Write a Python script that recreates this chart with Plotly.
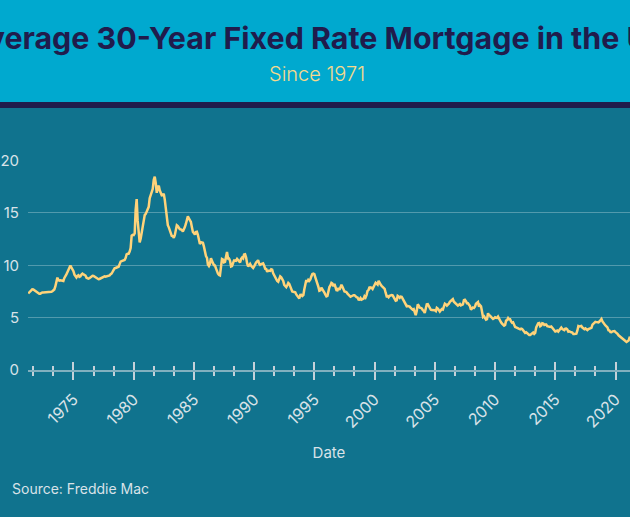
import pandas as pd
import plotly.graph_objects as go

# Freddie Mac 30-year fixed rate, monthly averages (%)
start_month = "1971-04-01"
rates_1970s = [
    7.31, 7.43, 7.53, 7.60, 7.70, 7.69, 7.63, 7.55, 7.48,
    7.44, 7.32, 7.29, 7.29, 7.37, 7.40, 7.40, 7.40, 7.42, 7.43, 7.44, 7.44,
    7.44, 7.44, 7.46, 7.52, 7.58, 7.69, 7.97, 8.53, 8.82, 8.60, 8.53, 8.56,
    8.54, 8.45, 8.50, 8.79, 9.06, 9.13, 9.34, 9.61, 9.80, 9.98, 9.79, 9.62,
    9.43, 9.10, 8.89, 8.83, 8.99, 9.05, 8.89, 8.94, 9.12, 9.21, 9.13, 9.08,
    9.02, 8.81, 8.76, 8.73, 8.76, 8.85, 8.93, 9.00, 8.98, 8.92, 8.81, 8.79,
    8.72, 8.67, 8.69, 8.75, 8.83, 8.86, 8.94, 8.94, 8.90, 8.92, 8.92, 8.96,
    9.02, 9.15, 9.20, 9.36, 9.57, 9.71, 9.74, 9.78, 9.76, 9.86, 10.11, 10.35,
    10.39, 10.41, 10.43, 10.50, 10.69, 11.04, 11.09, 11.09, 11.30, 11.64, 12.83, 12.90,
]
rates_1980s = [
    12.88, 13.04, 15.28, 16.32, 14.26, 12.71, 12.19, 12.56, 13.20, 13.79, 14.21, 14.79,
    14.90, 15.13, 15.40, 15.58, 16.40, 16.70, 16.83, 17.29, 18.16, 18.45, 17.83, 16.92,
    17.40, 17.60, 17.16, 16.89, 16.68, 16.70, 16.82, 16.27, 15.43, 14.61, 13.83, 13.62,
    13.25, 13.04, 12.80, 12.78, 12.63, 12.87, 13.42, 13.81, 13.73, 13.54, 13.44, 13.42,
    13.37, 13.23, 13.39, 13.65, 13.94, 14.42, 14.67, 14.47, 14.35, 14.13, 13.64, 13.18,
    13.08, 12.92, 13.17, 13.20, 12.91, 12.22, 12.03, 12.19, 12.19, 12.14, 11.78, 11.26,
    10.88, 10.71, 10.08, 9.94, 10.14, 10.68, 10.51, 10.20, 10.01, 9.98, 9.70, 9.31,
    9.20, 9.08, 9.04, 9.83, 10.60, 10.54, 10.28, 10.33, 10.89, 11.26, 10.65, 10.65,
    10.43, 9.89, 9.93, 10.20, 10.46, 10.46, 10.43, 10.60, 10.48, 10.30, 10.27, 10.61,
    10.73, 10.65, 11.03, 11.05, 10.77, 10.20, 9.88, 9.99, 10.13, 9.95, 9.77, 9.74,
]
rates_1990s = [
    9.90, 10.20, 10.27, 10.37, 10.48, 10.16, 10.04, 10.10, 10.18, 10.18, 9.97, 9.67,
    9.64, 9.37, 9.50, 9.49, 9.47, 9.62, 9.58, 9.24, 9.01, 8.86, 8.71, 8.50,
    8.43, 8.76, 8.94, 8.85, 8.67, 8.51, 8.13, 7.98, 7.92, 8.09, 8.31, 8.22,
    7.99, 7.68, 7.50, 7.47, 7.47, 7.42, 7.21, 7.11, 6.91, 6.83, 7.16, 7.17,
    7.06, 7.15, 7.68, 8.32, 8.60, 8.40, 8.61, 8.51, 8.64, 8.93, 9.17, 9.20,
    9.15, 8.83, 8.46, 8.32, 7.96, 7.57, 7.61, 7.86, 7.64, 7.48, 7.38, 7.20,
    7.03, 7.08, 7.62, 7.93, 8.07, 8.32, 8.25, 8.00, 8.23, 7.92, 7.62, 7.60,
    7.82, 7.65, 7.90, 8.14, 7.94, 7.69, 7.50, 7.48, 7.43, 7.29, 7.21, 7.10,
    6.99, 7.04, 7.13, 7.14, 7.14, 7.00, 6.95, 6.92, 6.72, 6.71, 6.87, 6.72,
    6.79, 6.81, 7.04, 6.92, 7.15, 7.55, 7.63, 7.94, 7.82, 7.85, 7.74, 7.91,
]
rates_2000s = [
    8.21, 8.33, 8.24, 8.15, 8.52, 8.29, 8.15, 8.03, 7.91, 7.80, 7.75, 7.38,
    7.03, 7.05, 6.95, 7.08, 7.15, 7.16, 7.13, 6.95, 6.82, 6.62, 6.66, 7.07,
    7.00, 6.89, 7.01, 6.99, 6.81, 6.65, 6.49, 6.29, 6.09, 6.11, 6.07, 6.05,
    5.92, 5.84, 5.75, 5.81, 5.48, 5.23, 5.63, 6.26, 6.15, 5.95, 5.93, 5.88,
    5.71, 5.64, 5.45, 5.83, 6.27, 6.29, 6.06, 5.87, 5.75, 5.72, 5.73, 5.75,
    5.71, 5.63, 5.93, 5.86, 5.72, 5.58, 5.70, 5.82, 5.77, 6.07, 6.33, 6.27,
    6.15, 6.25, 6.32, 6.51, 6.60, 6.68, 6.76, 6.52, 6.40, 6.36, 6.24, 6.14,
    6.22, 6.29, 6.16, 6.18, 6.26, 6.66, 6.70, 6.57, 6.38, 6.38, 6.21, 6.10,
    5.76, 5.92, 5.97, 5.92, 6.04, 6.32, 6.43, 6.48, 6.04, 6.20, 6.09, 5.29,
    5.06, 5.13, 5.00, 4.81, 4.86, 5.42, 5.22, 5.19, 5.06, 4.95, 4.88, 4.93,
]
rates_2010s = [
    5.03, 4.99, 4.97, 5.10, 4.89, 4.74, 4.56, 4.43, 4.35, 4.23, 4.30, 4.71,
    4.76, 4.95, 4.84, 4.84, 4.64, 4.51, 4.55, 4.27, 4.11, 4.07, 3.99, 3.96,
    3.92, 3.89, 3.95, 3.91, 3.80, 3.68, 3.55, 3.60, 3.50, 3.38, 3.35, 3.35,
    3.41, 3.53, 3.57, 3.45, 3.54, 4.07, 4.37, 4.46, 4.49, 4.19, 4.26, 4.46,
    4.43, 4.30, 4.34, 4.34, 4.19, 4.16, 4.13, 4.12, 4.16, 4.04, 4.00, 3.86,
    3.67, 3.71, 3.77, 3.67, 3.84, 3.98, 4.05, 3.91, 3.89, 3.80, 3.94, 3.96,
    3.87, 3.66, 3.69, 3.61, 3.60, 3.57, 3.44, 3.44, 3.46, 3.47, 3.77, 4.20,
    4.15, 4.17, 4.20, 4.05, 4.01, 3.90, 3.97, 3.88, 3.81, 3.90, 3.92, 3.95,
    4.03, 4.33, 4.44, 4.47, 4.59, 4.57, 4.53, 4.55, 4.63, 4.83, 4.87, 4.64,
    4.46, 4.37, 4.27, 4.14, 4.07, 3.80, 3.77, 3.62, 3.61, 3.69, 3.70, 3.72,
]
rates_2020s = [
    3.62, 3.47, 3.45, 3.31, 3.23, 3.16, 3.02, 2.94, 2.89, 2.83, 2.77, 2.68,
    2.74, 2.81, 3.08, 3.06, 2.96, 2.98,
]

y_ticks = [0, 5, 10, 15, 20]

rates = rates_1970s + rates_1980s + rates_1990s + rates_2000s + rates_2010s + rates_2020s
dates = pd.date_range(start_month, periods=len(rates), freq="MS")

header_blue = "#00a9cf"
navy = "#201c4c"
teal = "#10738e"
gold = "#ffd37a"
light = "#d9e2e8"
axis_grey = "#c5d1d9"
font = "Inter"

fig = go.Figure()
fig.add_trace(go.Scatter(x=dates, y=rates, mode="lines", name="30-Year Fixed",
                         line=dict(color=gold, width=2.5), showlegend=False))
# one-point trace so the overlay axis (inner half of the ticks) gets drawn
fig.add_trace(go.Scatter(x=dates[:1], y=rates[:1], xaxis="x2", mode="lines",
                         showlegend=False, hoverinfo="skip"))

W, H = 630, 517
m_l, m_r, m_t, m_b = 26, 0, 160, 147
header_h, stripe_h = 102, 6
pw, ph = W - m_l - m_r, H - m_t - m_b

tick_common = dict(tickmode="linear", tick0="1975-01-01", dtick="M60",
                   tickcolor=axis_grey, tickwidth=1.7)
minor_common = dict(tick0="1975-01-01", dtick="M20", tickcolor=axis_grey,
                    tickwidth=1.7, showgrid=False)

fig.update_layout(
    width=W, height=H,
    margin=dict(l=m_l, r=m_r, t=m_t, b=m_b),
    paper_bgcolor=teal, plot_bgcolor=teal,
    font=dict(family=font, color=light),
    title=dict(text="<b>Average 30-Year Fixed Rate Mortgage in the U.S.</b>",
               xref="container", yref="container", x=327 / W, y=1 - 38 / H,
               xanchor="center", yanchor="middle",
               font=dict(family=font, size=30.4, color=navy)),
    xaxis=dict(range=["1971-03-25", "2021-03-15"], showgrid=False, zeroline=False,
               showline=True, linecolor="rgba(205,216,224,0.6)", linewidth=1.5,
               ticks="outside", ticklen=8, **tick_common,
               minor=dict(ticks="outside", ticklen=4, **minor_common),
               tickformat="%Y", tickangle=-45, ticklabelstandoff=4,
               tickfont=dict(size=16, color=light),
               title=dict(text="Date", standoff=17, font=dict(size=15, color=light))),
    xaxis2=dict(overlaying="x", matches="x", anchor="y", side="bottom",
                showgrid=False, zeroline=False, showline=False, showticklabels=False,
                ticks="inside", ticklen=8, **tick_common,
                minor=dict(ticks="inside", ticklen=4, **minor_common)),
    yaxis=dict(range=[0, 20.05], tickvals=y_ticks, showgrid=True,
               gridcolor="rgba(255,255,255,0.28)", gridwidth=1, zeroline=False,
               ticks="", ticklabelstandoff=8, tickfont=dict(size=15, color=light)),
    shapes=[
        dict(type="rect", xref="paper", yref="paper", layer="below",
             x0=-0.2, x1=1.2, line_width=0,
             y0=1 + (m_t - header_h) / ph, y1=1 + (m_t + 40) / ph,
             fillcolor=header_blue),
        dict(type="rect", xref="paper", yref="paper", layer="below",
             x0=-0.2, x1=1.2, line_width=0,
             y0=1 + (m_t - header_h - stripe_h) / ph,
             y1=1 + (m_t - header_h) / ph,
             fillcolor=navy),
    ],
    annotations=[
        dict(text="Since 1971", xref="paper", yref="paper",
             x=(316 - m_l) / pw, y=1 + (m_t - 74) / ph,
             xanchor="center", yanchor="middle", showarrow=False,
             font=dict(family=font, size=20, weight=300, color="#f6d98c")),
        dict(text="Source: Freddie Mac", xref="paper", yref="paper",
             x=(8 - m_l) / pw, y=-(488 - (H - m_b)) / ph,
             xanchor="left", yanchor="middle", showarrow=False,
             font=dict(family=font, size=14, color=light)),
    ],
)

# drop the browser's default body margin so the figure sits at the page corner
fig.write_html("out.html", config={"displayModeBar": False},
               post_script="document.body.style.margin = '0';")
